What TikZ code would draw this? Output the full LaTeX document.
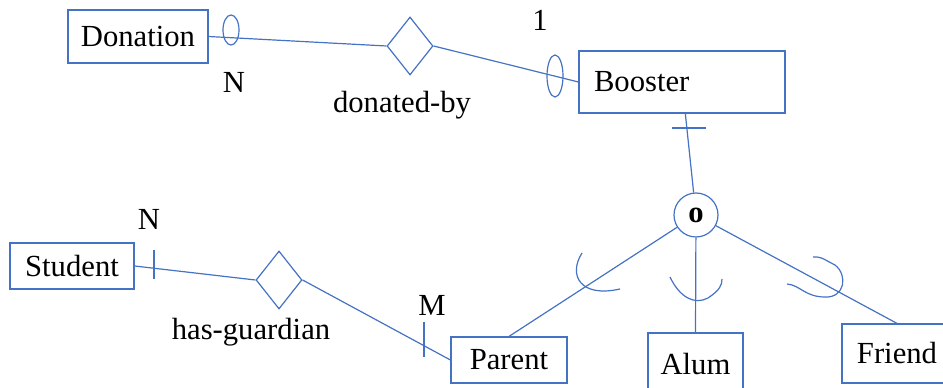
\documentclass[tikz,border=0pt]{standalone}
\usepackage{fontspec}
\setmainfont{Liberation Serif}
\usetikzlibrary{shapes.geometric}
\definecolor{erblue}{RGB}{68,114,196}

\begin{document}
\begin{tikzpicture}[x=0.75pt,y=0.75pt,yscale=-1,xscale=1,
  every node/.style={font=\fontsize{23}{27}\selectfont},
  entity/.style={draw=erblue,line width=0.9pt,inner sep=0pt},
  rel/.style={draw=erblue,line width=0.9pt,diamond,inner sep=0pt,minimum width=34.5pt,minimum height=43.5pt},
  conn/.style={draw=erblue,line width=0.9pt},
  lbl/.style={inner sep=0.75pt}]
\useasboundingbox (0,0) rectangle (943,388);

%Entities
\node [entity,minimum width=105pt,minimum height=39.75pt] (donation) at (138,36.5) {Donation};
\node [entity,minimum width=154.5pt,minimum height=46.5pt,text width=132pt,align=left,inner xsep=11.25pt] (booster) at (682,82) {Booster};
\node [entity,minimum width=93pt,minimum height=34.5pt] (student) at (72,266) {Student};
\node [entity,minimum width=87pt,minimum height=34.5pt] (parent) at (509,360) {Parent};
\node [entity,minimum width=71.25pt,minimum height=46.5pt] (alum) at (695.5,364) {Alum};
\node [entity,minimum width=82.5pt,minimum height=44.25pt] (friend) at (897,353.5) {Friend};

%Relationships
\node [rel] (donby) at (410,46) {};
\node [rel] (hasg) at (279,280) {};

%Specialisation circle
\node [entity,circle,minimum size=33pt,font=\fontsize{23}{27}\selectfont\bfseries] (isa) at (696,215) {o};

%Connectors
\draw [conn] (donation.east) -- (donby.west);
\draw [conn] (donby.east) -- (booster.west);
\draw [conn] (booster) -- (isa);
\draw [conn] (isa) -- (parent.north);
\draw [conn] (isa) -- (alum.north);
\draw [conn] (isa) -- (friend.north);
\draw [conn] (student.east) -- (hasg.west);
\draw [conn] (hasg.east) -- (parent.west);

%Participation marks
\draw [conn] (231,30) ellipse [x radius=8,y radius=15];
\draw [conn] (555,76) ellipse [x radius=8,y radius=21];
\draw [conn] (672,128) -- (706,128);
\draw [conn] (154,250) -- (154,279);
\draw [conn] (424,322) -- (424,357);

%Subset curves
\draw [conn] (582,253) .. controls (568,275) and (580,298) .. (620,289);
\draw [conn] (670,277) .. controls (680,298) and (695,305) .. (708,298) .. controls (720,290) and (722,285) .. (722,279);
\draw [conn] (813,257) .. controls (822,256) and (828,262) .. (835,265) .. controls (848,275) and (845,298) .. (825,297) .. controls (805,297) and (800,285) .. (787,284);

% Text Node
\node [lbl] (cardn) at (234,82) {N};
% Text Node
\node [lbl] (cardone) at (540,20) {1};
% Text Node
\node [lbl] (donbylbl) at (402,105) {donated-by};
% Text Node
\node [lbl] (cardns) at (149,219) {N};
% Text Node
\node [lbl] (cardm) at (432,305) {M};
% Text Node
\node [lbl] (hasglbl) at (251,332) {has-guardian};

\end{tikzpicture}
\end{document}
